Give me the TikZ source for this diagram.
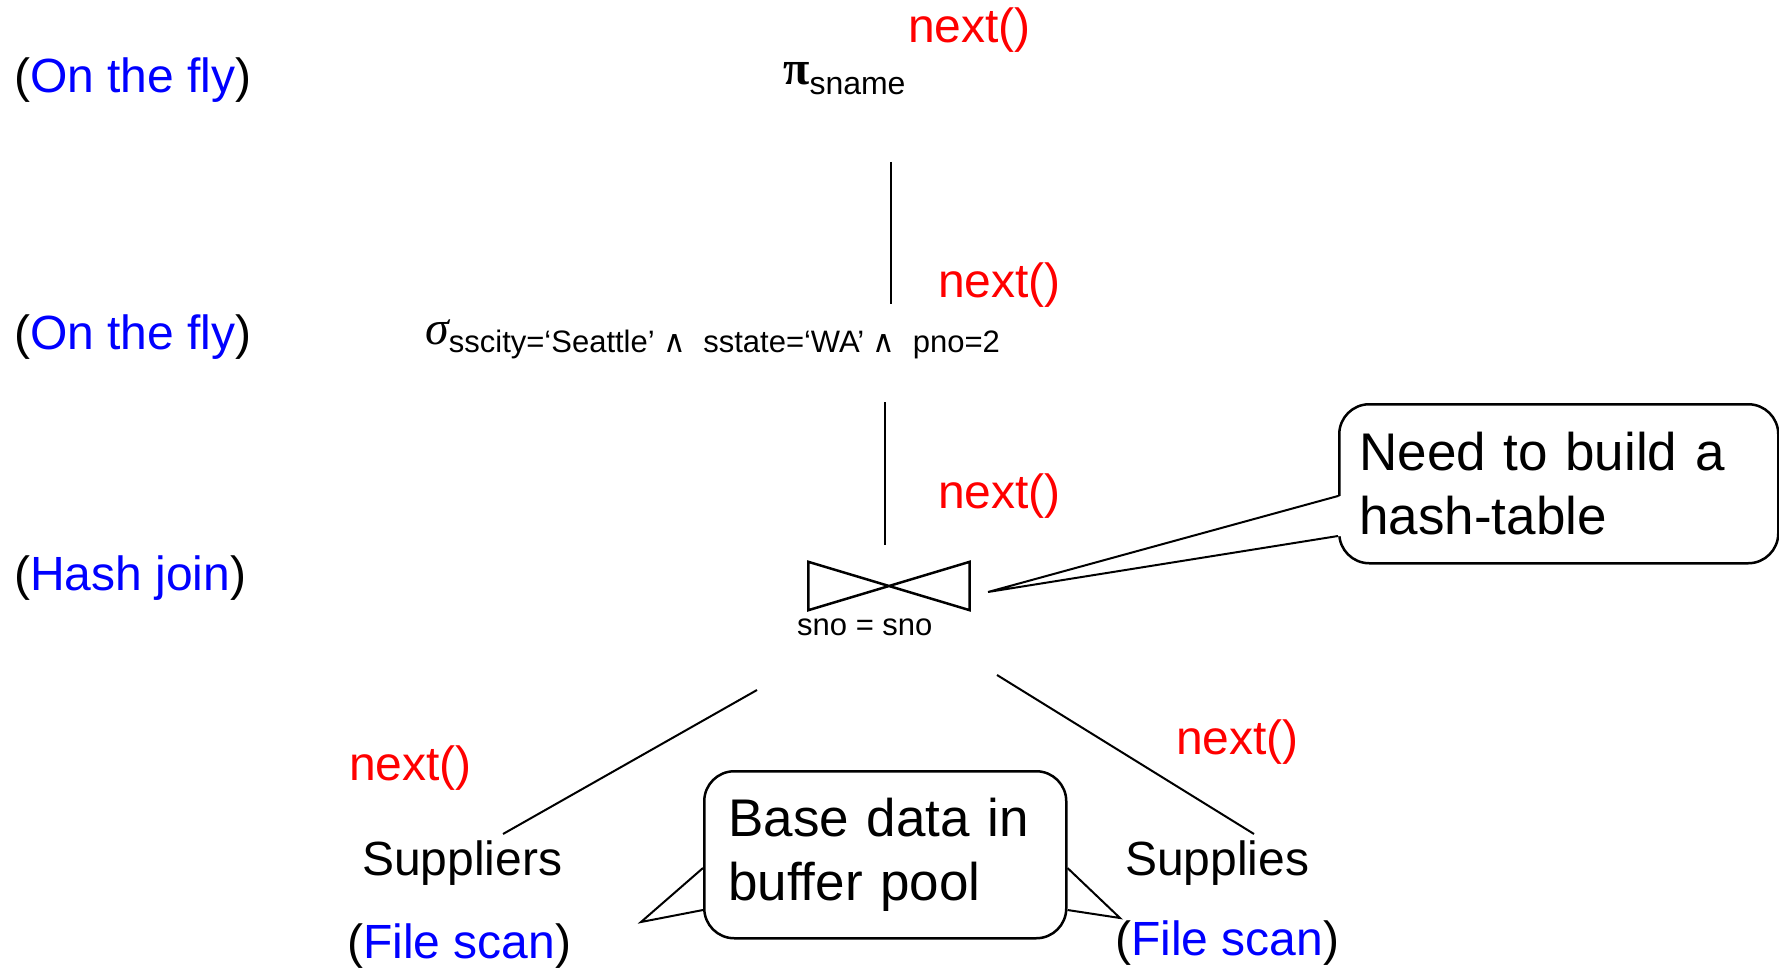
\documentclass[tikz,border=0pt]{standalone}
\usepackage{color}
\usepackage{fontspec}
\setmainfont{Liberation Sans}
\newfontfamily\greekfont{Liberation Serif}
\newfontfamily\symfont{DejaVu Sans}
\usepackage{tikz}
\definecolor{callred}{RGB}{255,0,0}
\definecolor{algblue}{RGB}{0,0,255}

\begin{document}
\begin{tikzpicture}[x=1pt,y=-1pt]
		\tikzstyle{big}=[inner sep=0pt, anchor=base west, font=\fontsize{48}{58}\selectfont]
		\tikzstyle{call}=[big, text=callred]
		\tikzstyle{small}=[inner sep=0pt, anchor=base west, font=\fontsize{31}{37}\selectfont]
		\tikzstyle{note}=[draw, line width=2.5pt, rounded corners=30pt, align=left, anchor=north west, fill=white, inner ysep=0pt, font=\fontsize{53}{64}\selectfont]
		\tikzstyle{edge line}=[line width=2pt]

		\useasboundingbox (0,0) rectangle (1779,968);

		% algorithm of each operator
		\node [big] (alg1) at (14,93) {(\textcolor{algblue}{On the fly})};
		\node [big] (alg2) at (14,349) {(\textcolor{algblue}{On the fly})};
		\node [big] (alg3) at (14,590) {(\textcolor{algblue}{Hash join})};

		% operators
		\node [big] (proj) at (783,85) {{\greekfont\bfseries π}\raisebox{-10pt}{\fontsize{32}{37}\selectfont sname}};
		\node [big] (sel) at (425,344) {{\greekfont\itshape σ}\raisebox{-8pt}{\fontsize{31}{37}\selectfont sscity=‘Seattle’ {\symfont ∧}\ \ sstate=‘WA’ {\symfont ∧}\ \ pno=2}};
		\node [inner sep=0pt, minimum width=161pt, minimum height=48pt] (join) at (889,586) {};
		\draw [line width=2.5pt] (join.north west) -- (join.south east) -- (join.north east) -- (join.south west) -- cycle;
		\node [small] (cond) at (797,635) {sno = sno};
		\node [big] (suppliers) at (362,875) {Suppliers};
		\node [big] (supplies) at (1125,875) {Supplies};
		\node [big] (scan1) at (347,958) {(\textcolor{algblue}{File scan})};
		\node [big] (scan2) at (1115,955) {(\textcolor{algblue}{File scan})};

		% next() calls
		\node [call] (next1) at (908,43) {next()};
		\node [call] (next2) at (938,298) {next()};
		\node [call] (next3) at (938,508) {next()};
		\node [call] (next4) at (349,780) {next()};
		\node [call] (next5) at (1176,754) {next()};

		% tree edges
		\coordinate (proj-in) at (891,162);
		\coordinate (sel-out) at (891,304);
		\coordinate (sel-in) at (885,402);
		\coordinate (join-out) at (885,545);
		\coordinate (join-left) at (757,690);
		\coordinate (suppliers-out) at (503,834);
		\coordinate (join-right) at (997,675);
		\coordinate (supplies-out) at (1254,834);
		\draw [edge line] (proj-in) -- (sel-out);
		\draw [edge line] (sel-in) -- (join-out);
		\draw [edge line] (join-left) -- (suppliers-out);
		\draw [edge line] (join-right) -- (supplies-out);

		% callouts
		\node [note, text width=314pt, inner xsep=24pt, minimum height=167pt] (buffer) at (703,770) {Base data in\\buffer pool};
		\coordinate (buffer-tip1) at (641,922);
		\coordinate (buffer-tip2) at (1120,918);
		\draw [edge line] (buffer.west |- 0,868) -- (buffer-tip1) -- (buffer.west |- 0,910);
		\draw [edge line] (buffer.east |- 0,868) -- (buffer-tip2) -- (buffer.east |- 0,910);

		\node [note, text width=399pt, inner xsep=20pt, minimum height=159pt] (hash) at (1338,403) {Need to build a\\hash-table};
		\coordinate (hash-tip) at (988,592);
		\fill [white] (1341,496) -- (hash-tip) -- (1341,536) -- cycle;
		\draw [edge line] (hash.west |- 0,496) -- (hash-tip) -- (hash.west |- 0,536);
	\end{tikzpicture}
\end{document}
